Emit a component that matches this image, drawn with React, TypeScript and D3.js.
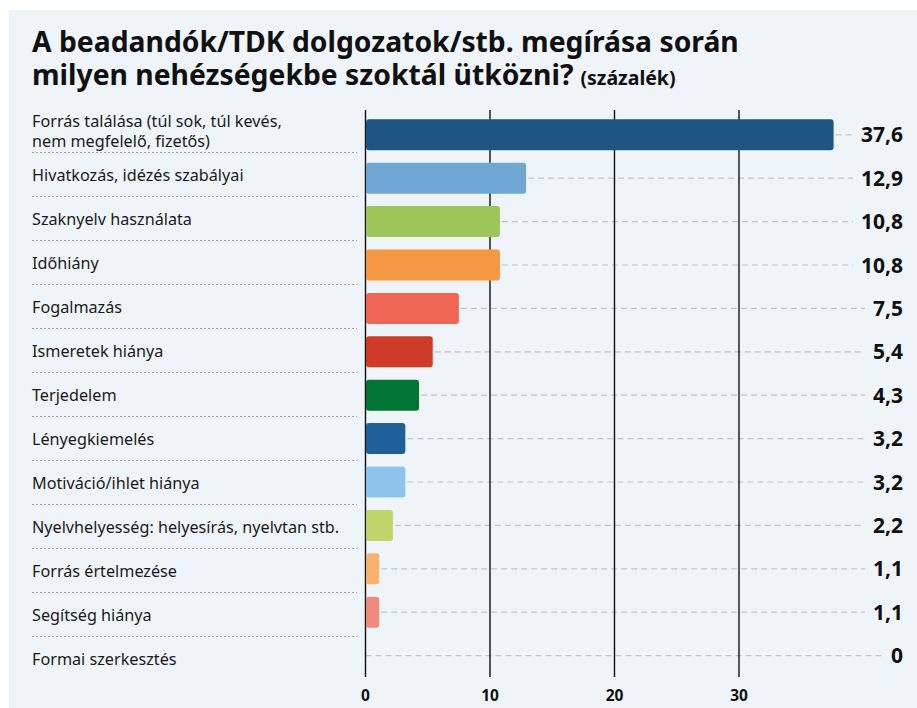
import React, { useEffect, useRef } from "react";
import * as d3 from "d3";

const categories = [
  "Forrás találása (túl sok, túl kevés,|nem megfelelő, fizetős)",
  "Hivatkozás, idézés szabályai",
  "Szaknyelv használata",
  "Időhiány",
  "Fogalmazás",
  "Ismeretek hiánya",
  "Terjedelem",
  "Lényegkiemelés",
  "Motiváció/ihlet hiánya",
  "Nyelvhelyesség: helyesírás, nyelvtan stb.",
  "Forrás értelmezése",
  "Segítség hiánya",
  "Formai szerkesztés",
];
const values = [37.6, 12.9, 10.8, 10.8, 7.5, 5.4, 4.3, 3.2, 3.2, 2.2, 1.1, 1.1, 0];
const valueLabels = ["37,6", "12,9", "10,8", "10,8", "7,5", "5,4", "4,3", "3,2", "3,2", "2,2", "1,1", "1,1", "0"];
const colors = [
  "#1f5582", "#6fa6d4", "#9cc65a", "#f59843", "#ef6652", "#d03a28",
  "#027535", "#1f5f9a", "#8ec3ec", "#bfd56c", "#f9b26e", "#f08a7a", "#cccccc",
];
const xTicks = [0, 10, 20, 30];
const titleLine1 = "A beadandók/TDK dolgozatok/stb. megírása során";
const titleLine2 = "milyen nehézségekbe szoktál ütközni?";
const titleUnit = "(százalék)";

const W = 917;
const H = 708;
const FONT = "'Noto Sans', 'Open Sans', sans-serif";

export default function App() {
  const ref = useRef<SVGSVGElement>(null);

  useEffect(() => {
    const svg = d3.select(ref.current);
    svg.selectAll("*").remove();

    svg.append("rect").attr("width", W).attr("height", H).attr("fill", "#ffffff");
    svg.append("rect").attr("x", 9).attr("y", 10).attr("width", W - 9).attr("height", H - 10).attr("fill", "#eff4f8");

    // Title (single text element, two lines)
    const title = svg.append("text").attr("font-family", FONT)
      .attr("font-weight", 700).attr("font-size", 28.3).attr("fill", "#111");
    title.append("tspan").attr("x", 32).attr("y", 52).text(titleLine1);
    title.append("tspan").attr("x", 32).attr("y", 84.5).text(titleLine2);
    title.append("tspan").attr("font-size", 19.5).attr("dx", 7).text(titleUnit);

    const x = d3.scaleLinear().domain([0, 10]).range([365.5, 490]);
    const yBar = d3.scaleBand<string>().domain(categories).range([113.1, 677.3])
      .paddingInner(0.286).paddingOuter(0.143);
    const yLab = d3.scaleBand<string>().domain(categories).range([108.5, 680.5]);

    // separators
    categories.slice(0, -1).forEach((c) => {
      const yy = (yLab(c) as number) + yLab.bandwidth();
      svg.append("line").attr("x1", 32).attr("x2", 357).attr("y1", yy).attr("y2", yy)
        .attr("stroke", "#9aa0a6").attr("stroke-width", 1).attr("stroke-dasharray", "2,2");
    });

    // labels
    categories.forEach((c) => {
      const lines = c.split("|");
      const cy = (yLab(c) as number) + yLab.bandwidth() / 2;
      const lh = 20;
      const txt = svg.append("text").attr("font-family", FONT).attr("font-size", 16.2)
        .attr("fill", "#1a1a1a");
      lines.forEach((l, i) => {
        txt.append("tspan").attr("x", 32)
          .attr("y", cy + 6 + (i - (lines.length - 1) / 2) * lh).text(l);
      });
    });

    // value labels and dashed leaders
    categories.forEach((c, i) => {
      const cy = (yBar(c) as number) + yBar.bandwidth() / 2;
      const vt = svg.append("text").attr("x", 903).attr("y", cy + 7.5)
        .attr("text-anchor", "end").attr("font-family", FONT).attr("font-weight", 700)
        .attr("font-size", 21).attr("fill", "#111").text(valueLabels[i]);
      const tw = (vt.node() as SVGTextElement).getComputedTextLength();
      const xEnd = 903 - tw - 8;
      const xStart = x(values[i]) + (values[i] > 0 ? 2 : 0);
      svg.insert("line", "text").attr("x1", xStart).attr("x2", xEnd).attr("y1", cy).attr("y2", cy)
        .attr("stroke", "#c3c6c9").attr("stroke-width", 1.2).attr("stroke-dasharray", "6,4");
    });

    // grid lines
    xTicks.forEach((t) => {
      svg.append("line").attr("x1", x(t)).attr("x2", x(t)).attr("y1", 110).attr("y2", 677)
        .attr("stroke", "#111").attr("stroke-width", 1.4);
      svg.append("text").attr("x", x(t)).attr("y", 701).attr("text-anchor", "middle")
        .attr("font-family", FONT).attr("font-weight", 700).attr("font-size", 15.5)
        .attr("fill", "#111").text(String(t));
    });

    // bars
    categories.forEach((c, i) => {
      if (values[i] <= 0) return;
      svg.append("rect").attr("x", x(0) + 0.5).attr("y", yBar(c) as number)
        .attr("width", x(values[i]) - x(0) - 0.5).attr("height", yBar.bandwidth())
        .attr("rx", 3).attr("ry", 3).attr("fill", colors[i]);
    });
  }, []);

  return (
    <svg ref={ref} width={W} height={H}
      style={{ position: "absolute", left: 0, top: 0, display: "block" }} />
  );
}
